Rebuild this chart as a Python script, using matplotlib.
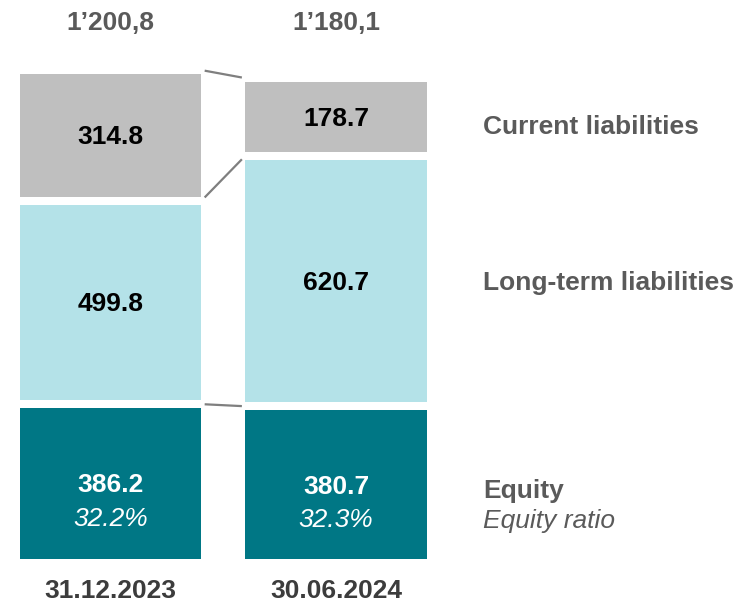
import matplotlib
matplotlib.use("Agg")
import matplotlib.pyplot as plt

# ---- data ----
dates = ["31.12.2023", "30.06.2024"]
totals = ["1\u2019200,8", "1\u2019180,1"]
equity = [386.2, 380.7]
long_term = [499.8, 620.7]
current = [314.8, 178.7]
equity_ratio = ["32.2%", "32.3%"]
segment_names = ["Equity", "Long-term liabilities", "Current liabilities"]
ratio_name = "Equity ratio"

# ---- style ----
FONT = ["Liberation Sans", "DejaVu Sans"]
plt.rcParams["font.family"] = FONT
c_equity = "#007785"
c_long = "#B4E2E8"
c_current = "#BFBFBF"
c_conn = "#7F7F7F"
c_label = "#5A5A5A"
c_date = "#3C3C3C"
gap = 20.0
width = 0.805
fs = 19
dy = -5  # small downward nudge for text centring

fig = plt.figure(figsize=(7.44, 6.02), dpi=100)
ax = fig.add_axes([0, 0, 1, 1])
ax.set_xlim(-0.49, 2.809)
ax.set_ylim(-110, 1430)
ax.axis("off")

xs = [0, 1]
bounds = []  # boundary (gap-center) positions for each bar
for i, x in enumerate(xs):
    b0 = 0.0
    b1 = b0 + equity[i]
    b2 = b1 + gap + long_term[i]
    b3 = b2 + gap + current[i]
    ax.bar(x, equity[i], bottom=b0, width=width, color=c_equity, linewidth=0)
    ax.bar(x, long_term[i], bottom=b1 + gap, width=width, color=c_long, linewidth=0)
    ax.bar(x, current[i], bottom=b2 + gap, width=width, color=c_current, linewidth=0)
    bounds.append([b1 + gap / 2, b2 + gap / 2, b3 + gap / 2])

    # in-bar labels
    ax.text(x, b0 + equity[i] / 2 + dy, f"{equity[i]:.1f}", ha="center", va="center",
            fontsize=fs, fontweight="bold", color="white")
    ax.text(x, b0 + equity[i] / 2 - 86 + dy, equity_ratio[i], ha="center", va="center",
            fontsize=fs, fontstyle="italic", color="white")
    ax.text(x, b1 + gap + long_term[i] / 2 + dy, f"{long_term[i]:.1f}", ha="center",
            va="center", fontsize=fs, fontweight="bold", color="black")
    ax.text(x, b2 + gap + current[i] / 2 + dy, f"{current[i]:.1f}", ha="center",
            va="center", fontsize=fs, fontweight="bold", color="black")

    # totals and dates
    ax.text(x, 1376 + dy, totals[i], ha="center", va="center", fontsize=fs,
            fontweight="bold", color=c_label)
    ax.text(x, -77 + dy, dates[i], ha="center", va="center", fontsize=fs,
            fontweight="bold", color=c_date)

# connector lines between bars
x_start = xs[0] + width / 2
x_end = xs[1] - width / 2
shrink = 0.015
for k in range(3):
    y0, y1 = bounds[0][k], bounds[1][k]
    xa, xb = x_start + shrink, x_end - shrink
    span = x_end - x_start
    ya = y0 + (y1 - y0) * (shrink / span)
    yb = y0 + (y1 - y0) * (1 - shrink / span)
    ax.plot([xa, xb], [ya, yb], color=c_conn, linewidth=1.6, solid_capstyle="butt")

# right-side labels
xl = 1.652
ax.text(xl, 1110 + dy, segment_names[2], ha="left", va="center", fontsize=fs,
        fontweight="bold", color=c_label)
ax.text(xl, 711 + dy, segment_names[1], ha="left", va="center", fontsize=fs,
        fontweight="bold", color=c_label)
ax.text(xl, 179 + dy, segment_names[0], ha="left", va="center", fontsize=fs,
        fontweight="bold", color=c_label)
ax.text(xl, 102 + dy, ratio_name, ha="left", va="center", fontsize=fs,
        fontstyle="italic", color=c_label)

fig.savefig("out.png", dpi=100)
